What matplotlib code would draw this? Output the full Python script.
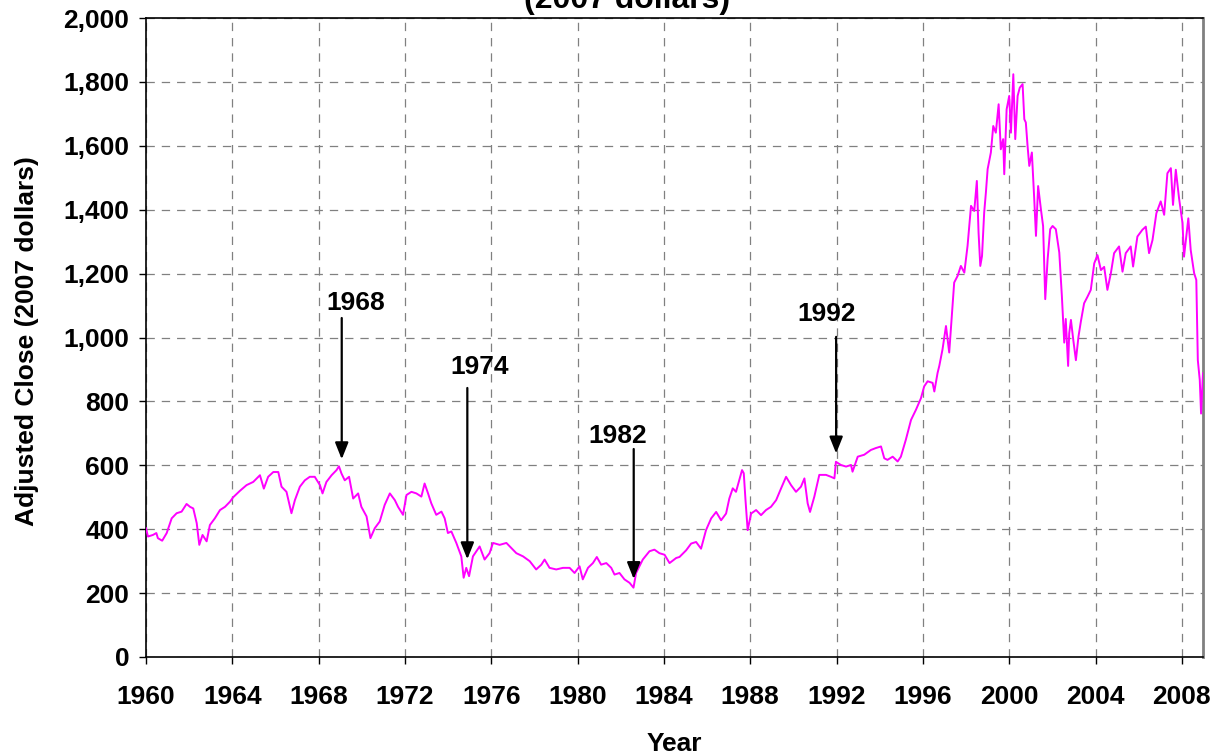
import matplotlib
matplotlib.use("Agg")
import matplotlib.pyplot as plt
from matplotlib.ticker import FuncFormatter, MultipleLocator

# inflation-adjusted close
years = [
    1960.00, 1960.09, 1960.32, 1960.48, 1960.55, 1960.75, 1960.96, 1961.19, 1961.42, 1961.65,
    1961.88, 1962.04, 1962.19, 1962.35, 1962.47, 1962.62, 1962.81, 1962.96, 1963.19, 1963.43,
    1963.66, 1963.89, 1964.04, 1964.35, 1964.66, 1964.97, 1965.28, 1965.46, 1965.66, 1965.90,
    1966.13, 1966.28, 1966.51, 1966.74, 1966.90, 1967.13, 1967.36, 1967.59, 1967.82, 1968.06,
    1968.18, 1968.36, 1968.60, 1968.83, 1968.94, 1969.06, 1969.21, 1969.41, 1969.60, 1969.83,
    1969.98, 1970.22, 1970.40, 1970.60, 1970.83, 1971.06, 1971.30, 1971.53, 1971.68, 1971.91,
    1972.07, 1972.30, 1972.53, 1972.76, 1972.91, 1973.07, 1973.22, 1973.45, 1973.69, 1973.84,
    1973.99, 1974.15, 1974.38, 1974.61, 1974.72, 1974.84, 1974.97, 1975.15, 1975.46, 1975.69,
    1975.92, 1976.08, 1976.39, 1976.70, 1976.93, 1977.16, 1977.47, 1977.78, 1978.08, 1978.32,
    1978.47, 1978.70, 1979.01, 1979.32, 1979.63, 1979.86, 1980.09, 1980.24, 1980.48, 1980.71,
    1980.89, 1981.09, 1981.33, 1981.56, 1981.71, 1981.94, 1982.17, 1982.41, 1982.59, 1982.71,
    1983.02, 1983.33, 1983.56, 1983.79, 1984.03, 1984.26, 1984.57, 1984.72, 1985.03, 1985.26,
    1985.49, 1985.72, 1985.95, 1986.19, 1986.42, 1986.65, 1986.88, 1987.03, 1987.19, 1987.34,
    1987.47, 1987.62, 1987.70, 1987.78, 1987.88, 1988.04, 1988.27, 1988.50, 1988.73, 1988.96,
    1989.20, 1989.43, 1989.66, 1989.89, 1990.12, 1990.35, 1990.51, 1990.66, 1990.77, 1990.97,
    1991.20, 1991.51, 1991.74, 1991.90, 1991.97, 1992.20, 1992.44, 1992.67, 1992.74, 1992.98,
    1993.28, 1993.59, 1993.82, 1994.06, 1994.21, 1994.36, 1994.60, 1994.83, 1994.98, 1995.21,
    1995.45, 1995.68, 1995.91, 1996.06, 1996.22, 1996.45, 1996.53, 1996.68, 1996.76, 1996.91,
    1997.07, 1997.22, 1997.35, 1997.45, 1997.61, 1997.76, 1997.92, 1998.07, 1998.23, 1998.38,
    1998.50, 1998.58, 1998.66, 1998.74, 1998.84, 1998.92, 1999.00, 1999.15, 1999.26, 1999.38,
    1999.51, 1999.61, 1999.72, 1999.77, 1999.88, 2000.00, 2000.08, 2000.19, 2000.28, 2000.39,
    2000.49, 2000.62, 2000.70, 2000.77, 2000.85, 2000.93, 2001.05, 2001.16, 2001.24, 2001.34,
    2001.47, 2001.57, 2001.67, 2001.78, 2001.90, 2002.01, 2002.16, 2002.32, 2002.44, 2002.55,
    2002.62, 2002.73, 2002.78, 2002.86, 2002.97, 2003.09, 2003.21, 2003.32, 2003.47, 2003.63,
    2003.78, 2003.94, 2004.09, 2004.25, 2004.40, 2004.55, 2004.71, 2004.86, 2005.09, 2005.25,
    2005.40, 2005.63, 2005.74, 2005.94, 2006.17, 2006.33, 2006.48, 2006.64, 2006.82, 2007.02,
    2007.18, 2007.33, 2007.49, 2007.59, 2007.72, 2007.87, 2008.03, 2008.10, 2008.30, 2008.41,
    2008.57, 2008.67, 2008.74, 2008.83, 2008.89, 2008.98,
]
close = [
    403, 377, 382, 388, 372, 364, 388, 434, 450, 455,
    479, 470, 465, 419, 351, 382, 362, 413, 434, 460,
    470, 486, 500, 520, 538, 548, 569, 527, 564, 579,
    579, 533, 517, 450, 491, 533, 553, 564, 564, 538,
    512, 548, 569, 585, 597, 574, 553, 564, 496, 512,
    470, 440, 372, 403, 424, 476, 512, 491, 470, 445,
    507, 517, 512, 502, 543, 512, 481, 445, 455, 434,
    388, 393, 357, 315, 248, 279, 253, 315, 346, 305,
    325, 357, 351, 357, 341, 325, 315, 300, 274, 289,
    305, 279, 274, 279, 279, 263, 284, 243, 279, 294,
    313, 289, 294, 279, 258, 263, 243, 232, 217, 263,
    305, 331, 336, 325, 320, 294, 310, 313, 334, 355,
    360, 339, 397, 434, 454, 428, 449, 496, 528, 517,
    549, 585, 575, 491, 397, 449, 460, 444, 460, 470,
    491, 528, 564, 538, 517, 533, 559, 481, 454, 502,
    570, 570, 564, 559, 611, 601, 596, 601, 580, 627,
    633, 648, 654, 659, 622, 617, 627, 612, 627, 680,
    742, 774, 810, 847, 863, 858, 831, 889, 911, 963,
    1036, 953, 1078, 1172, 1193, 1224, 1203, 1287, 1412, 1396,
    1490, 1328, 1224, 1255, 1391, 1454, 1527, 1579, 1662, 1641,
    1730, 1589, 1621, 1511, 1714, 1756, 1641, 1824, 1621, 1756,
    1782, 1793, 1683, 1673, 1600, 1537, 1579, 1433, 1318, 1474,
    1401, 1349, 1120, 1245, 1339, 1349, 1339, 1266, 1130, 984,
    1058, 911, 1013, 1055, 992, 929, 1003, 1050, 1107, 1128,
    1149, 1232, 1258, 1211, 1221, 1149, 1201, 1264, 1285, 1206,
    1264, 1285, 1222, 1316, 1337, 1347, 1264, 1305, 1389, 1426,
    1384, 1514, 1530, 1415, 1525, 1436, 1358, 1253, 1373, 1274,
    1201, 1180, 929, 867, 762, 888,
]

# arrow annotations: label, arrow x, arrow top, arrow tip, label position
ann_labels = ["1968", "1974", "1982", "1992"]
ann_x = [1969.07, 1974.89, 1982.60, 1991.98]
ann_top = [1061, 842, 651, 1002]
ann_tip = [619, 306, 244, 637]
ann_text_x = [1969.72, 1975.46, 1981.85, 1991.53]
ann_text_y = [1108, 908, 692, 1074]

plt.rcParams['font.family'] = ['Liberation Sans', 'DejaVu Sans']
plt.rcParams['font.weight'] = 'bold'
plt.rcParams['lines.scale_dashes'] = False

fs = 19

fig = plt.figure(figsize=(12.17, 7.54), dpi=100)
ax = fig.add_axes([146 / 1217, 1 - 657 / 754, (1203 - 146) / 1217, (657 - 18) / 754])

ax.plot(years, close, color='#FF00FF', lw=1.4, zorder=3)

ax.set_xlim(1960, 2008.98)
ax.set_ylim(0, 2000)
ax.xaxis.set_major_locator(MultipleLocator(4))
ax.yaxis.set_major_locator(MultipleLocator(200))
ax.yaxis.set_major_formatter(FuncFormatter(lambda v, p: f"{int(v):,}"))
ax.grid(True, color='#808080', lw=0.9, linestyle=(0, (6, 5)), zorder=1)

ax.tick_params(axis='both', direction='out', length=5, width=1, colors='black',
               labelsize=fs)
ax.tick_params(axis='x', pad=15)
ax.tick_params(axis='y', pad=7)

for side in ['left', 'bottom', 'top']:
    ax.spines[side].set_color('black')
    ax.spines[side].set_linewidth(1.2)
ax.spines['right'].set_color('#808080')
ax.spines['right'].set_linewidth(2)

ax.set_xlabel('Year', fontsize=fs, fontweight='bold')
ax.xaxis.label.set_va('baseline')
ax.xaxis.set_label_coords(0.5, -0.147)
ax.set_ylabel('Adjusted Close (2007 dollars)', fontsize=fs, fontweight='bold')
ax.yaxis.set_label_coords(-0.101, 0.495)

for lab, x, top, tip, tx, ty in zip(ann_labels, ann_x, ann_top, ann_tip, ann_text_x, ann_text_y):
    ax.annotate('', xy=(x, tip), xytext=(x, top),
                arrowprops=dict(arrowstyle='-|>,head_length=1.0,head_width=0.4',
                                color='black', lw=1.6, shrinkA=0, shrinkB=0,
                                mutation_scale=10), zorder=4)
    ax.text(tx, ty, lab, ha='center', va='center', fontsize=fs, fontweight='bold', zorder=5)

fig.text(627 / 1217, 1 - 8 / 754, '(2007 dollars)', ha='center', va='baseline',
         fontsize=23, fontweight='bold')

fig.savefig('out.png', dpi=100)
